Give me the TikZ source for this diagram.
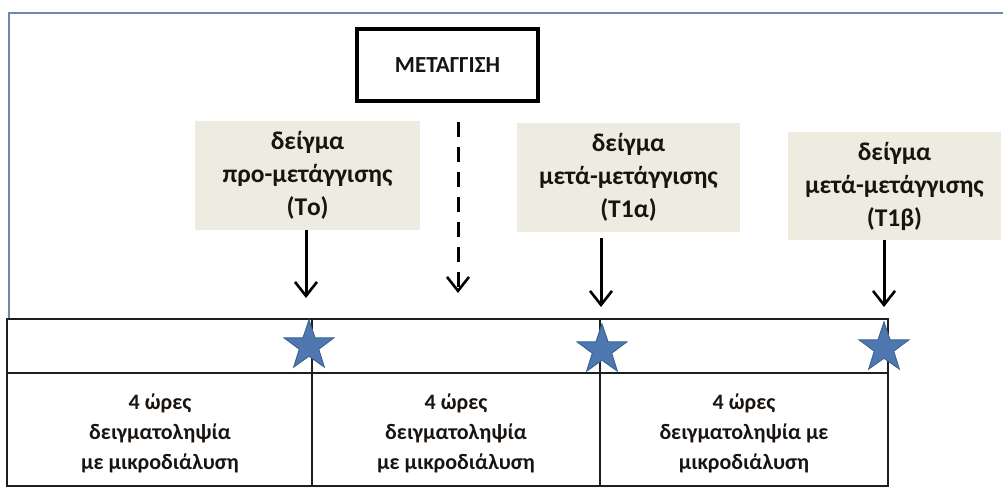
\documentclass[tikz,border=0pt]{standalone}
\usepackage{fontspec}
\setmainfont{Carlito}
\usetikzlibrary{shapes.geometric,arrows.meta}
\definecolor{beige}{HTML}{EEECE1}
\definecolor{starblue}{HTML}{4F78B0}
\definecolor{stardark}{HTML}{3C6494}
\definecolor{framec}{HTML}{7088AD}
\definecolor{tblc}{HTML}{1E1E1E}
\definecolor{txt}{HTML}{1A1410}
\begin{document}
\begin{tikzpicture}[x=1pt,y=-1pt,
  sample/.style={fill=beige, text=txt, inner sep=0pt, align=center, font=\bfseries\fontsize{25.5}{33}\selectfont},
  cell/.style={inner sep=0pt, text=txt, align=center, font=\bfseries\fontsize{22}{30}\selectfont},
  event/.style={draw=black, text=txt, line width=4.5pt, inner sep=0pt, minimum width=181pt, minimum height=72pt, font=\bfseries\fontsize{23}{26}\selectfont},
  arr/.style={line width=3pt, -{Straight Barb[length=14pt,width=22pt,line width=2.6pt]}},
  darr/.style={arr, dash pattern=on 15pt off 10pt},
  tbl/.style={draw=tblc, line width=2.3pt},
  starnode/.style={star, star points=5, star point ratio=2.55, fill=starblue, draw=stardark, line width=1pt, minimum size=52pt, inner sep=0pt},
  frame/.style={draw=framec, line width=2.2pt}
]
\useasboundingbox (0,0) rectangle (1003,488);
% outer frame
\draw[frame] (9,320) -- (9,13) -- (1003,13);
% event box
\node[event] (m) at (447.5,65) {ΜΕΤΑΓΓΙΣΗ};
% sample boxes
\node[sample, minimum width=225pt, minimum height=109pt] (t0) at (307.5,175.5) {δείγμα\\προ-μετάγγισης\\(Tο)};
\node[sample, minimum width=223pt, minimum height=109pt] (t1a) at (628.5,177.5) {δείγμα\\μετά-μετάγγισης\\(T1α)};
\node[sample, minimum width=213pt, minimum height=108pt] (t1b) at (894.5,186) {δείγμα\\μετά-μετάγγισης\\(T1β)};
% table
\coordinate (tl) at (7,319);
\coordinate (br) at (888,486);
\draw[tbl] (tl) rectangle (br);
\draw[tbl] (7,373) -- (888,373);
\draw[tbl] (312,319) -- (312,486);
\draw[tbl] (600,319) -- (600,486);
\node[cell] (c1) at (160,433) {4 ώρες\\δειγματοληψία\\με μικροδιάλυση};
\node[cell] (c2) at (456,433) {4 ώρες\\δειγματοληψία\\με μικροδιάλυση};
\node[cell] (c3) at (744,433) {4 ώρες\\δειγματοληψία με\\μικροδιάλυση};
% stars
\node[starnode] (s0) at (309,346) {};
\node[starnode] (s1) at (602,350) {};
\node[starnode] (s2) at (884,348) {};
% arrows
\coordinate (a0) at (306,298);
\coordinate (a1) at (601,307);
\coordinate (a2) at (884,307);
\draw[arr] (t0.south -| a0) -- (a0);
\draw[arr] ([yshift=-6pt]t1a.south -| a1) -- (a1);
\draw[arr] (t1b.south -| a2) -- (a2);
\coordinate (d0) at (458,122);
\coordinate (d1) at (458,293);
\draw[darr] (d0) -- (d1);
\end{tikzpicture}
\end{document}
